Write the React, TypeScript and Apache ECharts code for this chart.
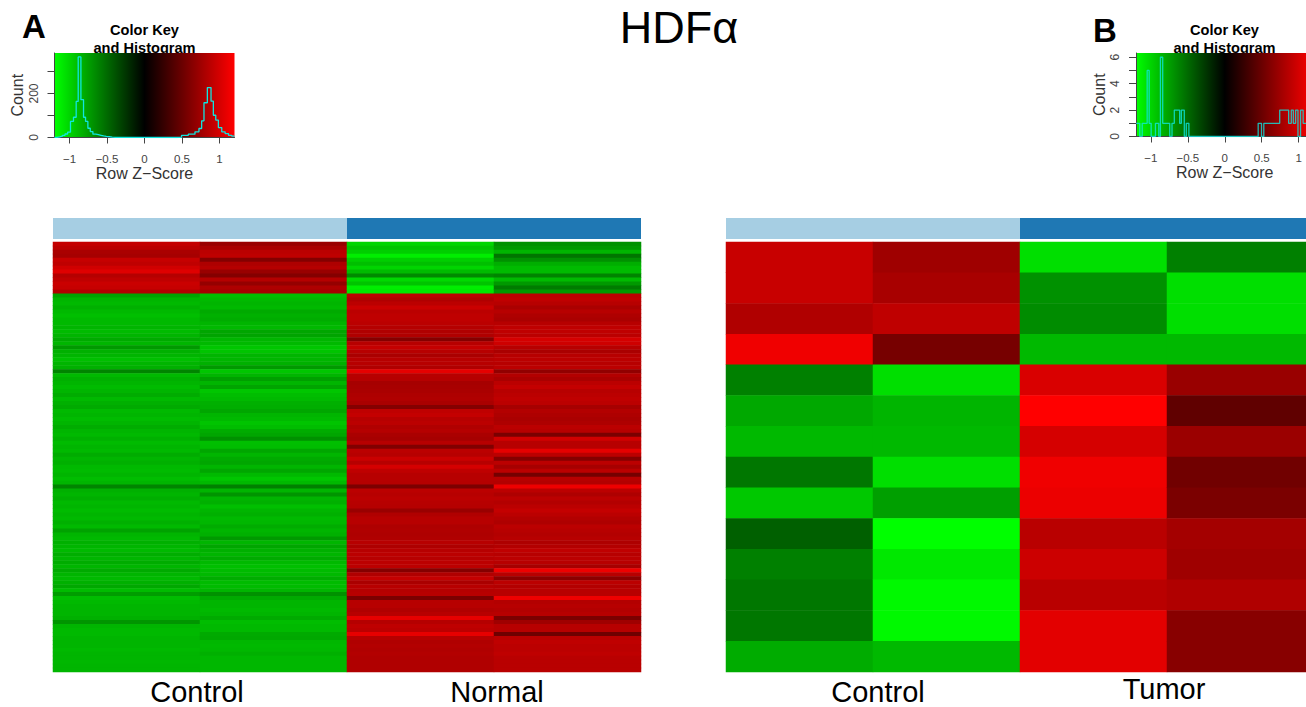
import React, { useEffect, useRef } from "react";
import * as echarts from "echarts";

const FONT = "'Liberation Sans', Arial, sans-serif";

// Panel A heat map: one value per row, top to bottom, for each of the four columns
const controlA1 = [
  0.92, 0.88, 0.8, 0.78, 0.93, 0.9, 0.98, 1.05, 0.85, 0.9, 0.95, 0.93, 0.84,
  -0.77, -0.85, -0.87, -0.83, -0.87, -0.9, -0.87, -0.87, -0.85, -0.88, -0.85, -0.8, -0.85, -0.72, -0.83, -0.85, -0.9,
  -0.85, -0.83, -0.62, -0.87, -0.83, -0.85, -0.88, -0.85, -0.81, -0.87, -0.83, -0.8, -0.87, -0.85, -0.88, -0.85, -0.81, -0.85, -0.87, -0.83,
  -0.88, -0.85, -0.87, -0.81, -0.85, -0.83, -0.87, -0.88, -0.85, -0.89, -0.85, -0.62, -0.83, -0.85, -0.82, -0.87, -0.85, -0.88, -0.85, -0.87,
  -0.83, -0.87, -0.76, -0.85, -0.87, -0.83, -0.85, -0.87, -0.82, -0.85, -0.81, -0.85, -0.8, -0.85, -0.87, -0.83, -0.79, -0.88, -0.74, -0.89,
  -0.87, -0.85, -0.85, -0.85, -0.83, -0.7, -0.85, -0.87, -0.87, -0.85, -0.85, -0.85, -0.87, -0.85, -0.85, -0.86, -0.85, -0.85,
];
const controlA2 = [
  0.72, 0.8, 0.88, 0.9, 0.62, 0.82, 0.85, 0.72, 0.62, 0.85, 0.7, 0.82, 0.78,
  -0.9, -0.87, -0.85, -0.87, -0.8, -0.83, -0.81, -0.85, -0.87, -0.78, -0.77, -0.85, -0.87, -0.93, -0.92, -0.85, -0.85,
  -0.83, -0.72, -0.93, -0.85, -0.75, -0.85, -0.77, -0.93, -0.89, -0.87, -0.83, -0.82, -0.78, -0.85, -0.87, -0.92, -0.89, -0.81, -0.78, -0.68,
  -0.9, -0.89, -0.78, -0.85, -0.8, -0.78, -0.85, -0.78, -0.87, -0.93, -0.87, -0.6, -0.85, -0.7, -0.85, -0.83, -0.9, -0.85, -0.83, -0.87,
  -0.86, -0.81, -0.85, -0.83, -0.72, -0.85, -0.78, -0.83, -0.85, -0.8, -0.87, -0.9, -0.88, -0.87, -0.81, -0.88, -0.88, -0.85, -0.68, -0.8,
  -0.85, -0.85, -0.87, -0.85, -0.8, -0.89, -0.87, -0.87, -0.8, -0.79, -0.86, -0.87, -0.86, -0.83, -0.86, -0.86, -0.86, -0.86,
];
const normalA1 = [
  -1.0, -0.92, -0.97, -1.12, -0.97, -0.9, -1.0, -0.88, -0.65, -1.02, -0.92, -1.12, -1.08,
  0.88, 0.83, 0.88, 0.95, 0.88, 0.9, 0.9, 0.88, 0.85, 0.83, 0.83, 0.62, 0.86, 0.92, 0.86, 0.8, 0.86,
  0.86, 0.83, 1.08, 0.86, 0.85, 0.78, 0.79, 0.8, 0.82, 0.83, 0.8, 0.62, 0.9, 0.92, 0.86, 0.88, 0.83, 0.85, 0.8, 0.78,
  0.86, 0.6, 0.88, 0.86, 0.95, 0.86, 1.0, 0.9, 0.86, 0.86, 0.85, 0.58, 0.88, 0.86, 0.88, 0.86, 0.85, 0.72, 0.83, 0.86,
  0.86, 0.82, 0.83, 0.82, 0.83, 0.86, 0.82, 0.86, 0.88, 0.86, 0.88, 0.88, 0.62, 0.83, 0.92, 0.8, 0.86, 0.85, 0.86, 0.58,
  0.86, 0.86, 0.83, 0.86, 1.08, 0.85, 0.9, 0.88, 1.08, 0.85, 0.83, 0.84, 0.83, 0.84, 0.83, 0.83, 0.83, 0.83,
];
const normalA2 = [
  -0.68, -0.72, -0.85, -0.55, -0.68, -0.82, -0.88, -0.88, -0.62, -0.88, -0.72, -0.58, -0.72,
  0.88, 0.9, 0.86, 0.8, 0.86, 0.82, 0.8, 0.86, 0.9, 0.9, 0.88, 1.0, 0.97, 0.86, 0.8, 0.86, 0.88,
  0.86, 0.88, 0.68, 0.84, 0.8, 0.88, 0.92, 0.86, 0.88, 0.9, 0.88, 0.78, 0.84, 0.82, 0.8, 0.82, 0.88, 0.86, 0.58, 0.98,
  0.86, 0.86, 1.08, 0.88, 0.62, 0.88, 0.78, 0.88, 0.55, 0.86, 0.84, 1.12, 0.88, 0.82, 0.88, 0.84, 0.88, 0.92, 0.88, 0.84,
  0.82, 0.88, 0.86, 0.84, 0.86, 0.82, 0.84, 0.9, 0.86, 0.88, 0.86, 0.78, 1.12, 0.86, 0.65, 0.88, 0.84, 0.86, 0.86, 1.12,
  0.84, 0.86, 0.84, 0.86, 0.58, 0.75, 0.86, 0.86, 0.52, 0.88, 0.9, 0.88, 0.88, 0.9, 0.87, 0.87, 0.87, 0.87,
];

// Panel B heat map: 14 rows, four columns (the last is cut off at the page edge)
const controlB1 = [0.94, 0.94, 0.83, 1.13, -0.6, -0.79, -0.87, -0.56, -0.94, -0.45, -0.6, -0.56, -0.56, -0.81];
const controlB2 = [0.75, 0.79, 0.9, 0.56, -1.05, -0.85, -0.87, -1.05, -0.75, -1.2, -1.09, -1.17, -1.17, -0.87];
const tumorB1 = [-1.05, -0.68, -0.66, -0.87, 1.02, 1.2, 1.0, 1.13, 1.11, 0.87, 0.96, 0.87, 1.07, 1.07];
const tumorB2 = [-0.6, -1.05, -1.05, -0.87, 0.72, 0.45, 0.73, 0.53, 0.58, 0.77, 0.75, 0.83, 0.64, 0.64];

// Colour key histograms: [left edge of bin, count]
const histA: [number, number][] = [
  [-1.2, 1], [-1.165, 3], [-1.13, 6], [-1.095, 10], [-1.06, 16], [-1.025, 24], [-0.987, 73], [-0.947, 92],
  [-0.911, 164], [-0.884, 366], [-0.848, 172], [-0.813, 92], [-0.786, 73], [-0.755, 42], [-0.723, 27],
  [-0.688, 15], [-0.65, 13], [-0.615, 10], [-0.58, 7], [-0.545, 5], [-0.51, 4], [-0.47, 2], [-0.43, 1], [-0.39, 0],
  [0.43, 2], [0.494, 10], [0.584, 15], [0.673, 26], [0.726, 41], [0.762, 76], [0.793, 158], [0.838, 227],
  [0.887, 165], [0.918, 101], [0.95, 79], [0.985, 45], [1.03, 26], [1.075, 18], [1.12, 10], [1.164, 6], [1.2, 6],
];
const histB: [number, number][] = [
  [-1.2, 1], [-1.149, 0], [-1.116, 1], [-1.049, 5], [-1.022, 1], [-0.995, 0], [-0.937, 1], [-0.892, 0],
  [-0.87, 6], [-0.839, 1], [-0.744, 0], [-0.713, 1], [-0.682, 2], [-0.61, 1], [-0.587, 2], [-0.547, 0],
  [-0.52, 1], [-0.485, 0], [0.452, 1], [0.497, 0], [0.528, 1], [0.743, 2], [0.864, 1], [0.9, 2], [0.927, 1],
  [0.958, 2], [0.99, 0], [1.025, 2], [1.06, 1], [1.2, 1],
];

const zTicks = [-1, -0.5, 0, 0.5, 1];
const countTicksA = [0, 100, 200, 300];
const countLabelsA = [0, 200];
const countTicksB = [0, 1, 2, 3, 4, 5, 6];
const countLabelsB = [0, 2, 4, 6];
const groupsA = ["Control", "Normal"];
const groupsB = ["Control", "Tumor"];
const samples = ["1", "2", "3", "4"];
const groupColors = ["#A6CEE3", "#1F78B4"];

const cells = (cols: number[][]) =>
  cols.flatMap((col, c) => col.map((v, r) => [c, r, v]));
const rowNames = (col: number[]) => col.map((_, i) => String(i));

function buildOption() {
  const keyBackground = () =>
    new echarts.graphic.LinearGradient(0, 0, 1, 0, [
      { offset: 0, color: "#00FF00" },
      { offset: 0.5, color: "#000000" },
      { offset: 1, color: "#FF0000" },
    ]);
  const keyX = (gridIndex: number) => ({
    type: "value",
    gridIndex,
    min: -1.2,
    max: 1.2,
    splitLine: { show: false },
    axisLine: { show: true, onZero: false, lineStyle: { color: "#444", width: 1 } },
    axisTick: { show: true, length: 6, customValues: zTicks, lineStyle: { color: "#444" } },
    axisLabel: {
      show: true,
      customValues: zTicks,
      margin: 15,
      fontFamily: FONT,
      fontSize: 11.5,
      color: "#444",
      formatter: (v: number) => String(v).replace("-", "\u2212"),
    },
    name: "Row Z\u2212Score",
    nameLocation: "middle",
    nameGap: 28,
    nameTextStyle: { fontFamily: FONT, fontSize: 16, color: "#333" },
  });
  const keyY = (gridIndex: number, max: number, ticks: number[], labels: number[]) => ({
    type: "value",
    gridIndex,
    min: 0,
    max,
    splitLine: { show: false },
    axisLine: { show: true, onZero: false, lineStyle: { color: "#444", width: 1 } },
    axisTick: { show: true, length: 7, customValues: ticks, lineStyle: { color: "#444" } },
    axisLabel: {
      show: true,
      customValues: labels,
      rotate: 90,
      margin: 15,
      fontFamily: FONT,
      fontSize: 12,
      color: "#444",
    },
    name: "Count",
    nameLocation: "middle",
    nameGap: 29,
    nameTextStyle: { fontFamily: FONT, fontSize: 16, color: "#333" },
  });
  const hiddenCat = (gridIndex: number, data: string[], inverse = false) => ({
    type: "category",
    gridIndex,
    data,
    inverse,
    show: false,
    boundaryGap: true,
  });
  const hiddenVal = (gridIndex: number) => ({
    type: "value",
    gridIndex,
    min: 0,
    max: 1,
    show: false,
  });
  const hist = (xAxisIndex: number, data: [number, number][], opacity: number) => ({
    type: "line",
    xAxisIndex,
    yAxisIndex: xAxisIndex,
    data,
    step: "end",
    showSymbol: false,
    symbol: "none",
    silent: true,
    lineStyle: { color: "#0FE6E0", width: 1.3, opacity },
  });
  const annotation = (idx: number, names: string[]) => ({
    type: "bar",
    xAxisIndex: idx,
    yAxisIndex: idx,
    barWidth: "100%",
    silent: true,
    data: names.map((_, i) => ({ value: 1, itemStyle: { color: groupColors[i] } })),
  });
  const heat = (idx: number, cols: number[][]) => ({
    type: "heatmap",
    xAxisIndex: idx,
    yAxisIndex: idx,
    data: cells(cols),
    progressive: 0,
    silent: true,
    emphasis: { disabled: true },
  });
  const text = (
    t: string,
    x: number,
    y: number,
    fontSize: number,
    fontWeight: string | number = "normal",
  ) => ({
    type: "text",
    x,
    y,
    z: -1,
    silent: true,
    style: {
      text: t,
      fontFamily: FONT,
      fontSize,
      fontWeight,
      fill: "#000",
      align: "center",
      verticalAlign: "middle",
    },
  });

  return {
    animation: false,
    backgroundColor: "#fff",
    grid: [
      { left: 54.5, top: 53, width: 180, height: 84.5, show: true, borderWidth: 0, backgroundColor: keyBackground() },
      { left: 1136, top: 53, width: 177.5, height: 83.5, show: true, borderWidth: 0, backgroundColor: keyBackground() },
      { left: 53, top: 218, width: 588, height: 21 },
      { left: 726, top: 218, width: 588, height: 21 },
      { left: 53, top: 242, width: 588, height: 430 },
      { left: 726, top: 242, width: 588, height: 430 },
    ],
    xAxis: [
      keyX(0),
      keyX(1),
      hiddenCat(2, groupsA),
      hiddenCat(3, groupsB),
      hiddenCat(4, samples),
      hiddenCat(5, samples),
    ],
    yAxis: [
      keyY(0, 384, countTicksA, countLabelsA),
      keyY(1, 6.32, countTicksB, countLabelsB),
      hiddenVal(2),
      hiddenVal(3),
      hiddenCat(4, rowNames(controlA1), true),
      hiddenCat(5, rowNames(controlB1), true),
    ],
    visualMap: {
      show: false,
      type: "continuous",
      min: -1.2,
      max: 1.2,
      dimension: 2,
      seriesIndex: [4, 5],
      inRange: { color: ["#00FF00", "#000000", "#FF0000"] },
    },
    series: [
      hist(0, histA, 1),
      hist(1, histB, 0.8),
      annotation(2, groupsA),
      annotation(3, groupsB),
      heat(4, [controlA1, controlA2, normalA1, normalA2]),
      heat(5, [controlB1, controlB2, tumorB1, tumorB2]),
    ],
    graphic: [
      text("HDF\u03B1", 679, 27, 45),
      text("A", 34, 26, 33, "bold"),
      text("B", 1105, 30, 33, "bold"),
      text("Color Key", 144.5, 30, 14.6, "bold"),
      text("and Histogram", 144.5, 47.5, 14.6, "bold"),
      text("Color Key", 1224.5, 30, 14.6, "bold"),
      text("and Histogram", 1224.5, 47.5, 14.6, "bold"),
      text(groupsA[0], 197, 692, 29),
      text(groupsA[1], 497, 692, 29),
      text(groupsB[0], 878, 692, 29),
      text(groupsB[1], 1164, 689, 29),
    ],
  };
}

export default function App() {
  const ref = useRef<HTMLDivElement>(null);
  useEffect(() => {
    document.body.style.margin = "0";
    const chart = echarts.init(ref.current!, undefined, { renderer: "svg" });
    chart.setOption(buildOption() as any);
    return () => chart.dispose();
  }, []);
  return (
    <div style={{ width: 1306, height: 707, overflow: "hidden" }}>
      <div ref={ref} style={{ width: 1330, height: 707 }} />
    </div>
  );
}
